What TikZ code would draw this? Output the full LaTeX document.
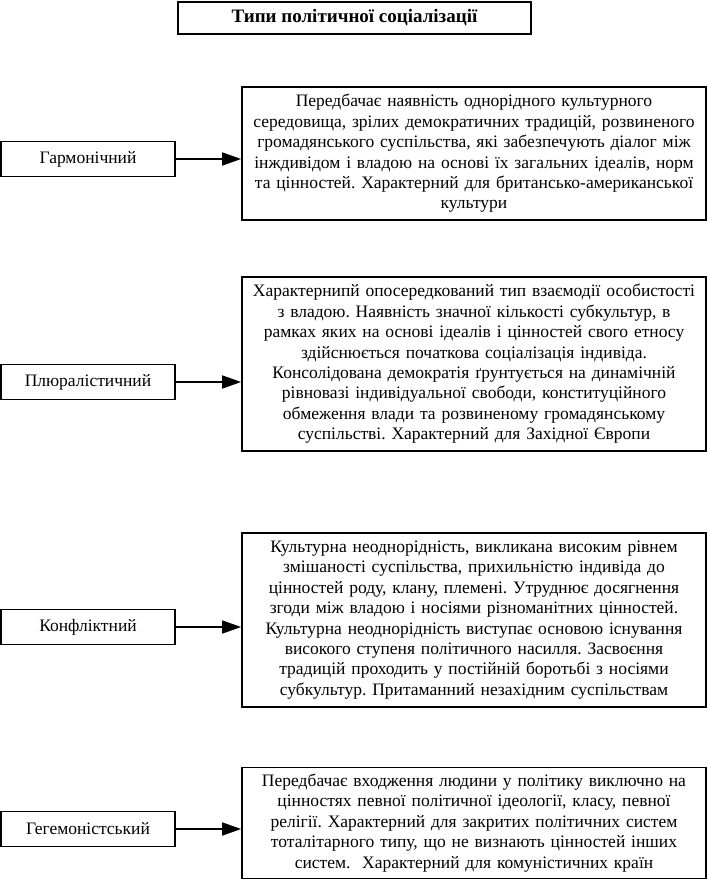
\documentclass[tikz,border=0pt]{standalone}
\usepackage{fontspec}
\setmainfont{Liberation Serif}
\usetikzlibrary{shapes,arrows.meta,positioning}
\def\Title{Типи політичної соціалізації}
\frenchspacing

\begin{document}
\begin{tikzpicture}[x=1pt,y=-1pt,% List of styles applied to all
				every node/.style={
					align=center,  		% use this so that the "\\" for line break works
					font=\fontsize{17.5}{20.4}\selectfont,
					line width=1.7pt
				},
				every edge/.style={draw,line width=1.6pt,-{Triangle[length=19pt,width=13pt]}},
				kind/.style={rectangle,draw=black,minimum width=174pt,minimum height=35pt,inner sep=0pt},
				descr/.style={rectangle,draw=black,minimum width=464pt,text width=460pt,inner sep=0pt}
			]
			\useasboundingbox (0,0) rectangle (708,881);
			\node[rectangle,draw=black,minimum width=353pt,minimum height=32pt,font=\fontsize{19}{22}\selectfont\bfseries](T) at (354.5,18){\Title};
			\node[descr,minimum height=133pt](R1) at (474,153.5){Передбачає наявність однорідного культурного\\ середовища, зрілих демократичних традицій, розвиненого\\ громадянського суспільства, які забезпечують діалог між\\ інждивідом і владою на основі їх загальних ідеалів, норм\\ та цінностей. Характерний для британсько-американської\\ культури};
			\node[descr,minimum height=174pt](R2) at (474,364){Характернипй опосередкований тип взаємодії особистості\\ з владою. Наявність значної кількості субкультур, в\\ рамках яких на основі ідеалів і цінностей свого етносу\\ здійснюється початкова соціалізація індивіда.\\ Консолідована демократія ґрунтується на динамічній\\ рівновазі індивідуальної свободи, конституційного\\ обмеження влади та розвиненому громадянському\\ суспільстві. Характерний для Західної Європи};
			\node[descr,minimum height=174pt](R3) at (474,620){Культурна неоднорідність, викликана високим рівнем\\ змішаності суспільства, прихильністю індивіда до\\ цінностей роду, клану, племені. Утруднює досягнення\\ згоди між владою і носіями різноманітних цінностей.\\ Культурна неоднорідність виступає основою існування\\ високого ступеня політичного насилля. Засвоєння\\ традицій проходить у постійній боротьбі з носіями\\ субкультур. Притаманний незахідним суспільствам};
			\node[descr,minimum height=111pt](R4) at (474,823){Передбачає входження людини у політику виключно на\\ цінностях певної політичної ідеології, класу, певної\\ релігії. Характерний для закритих політичних систем\\ тоталітарного типу, що не визнають цінностей інших\\ систем.\ \ Характерний для комуністичних країн};
			\node[kind](L1) at (88,159){Гармонічний};
			\node[kind](L2) at (88,382){Плюралістичний};
			\node[kind](L3) at (88,627){Конфліктний};
			\node[kind](L4) at (88,829){Гегемоністський};
			\path
			(L1.east) edge (L1.east -| R1.west)
			(L2.east) edge (L2.east -| R2.west)
			(L3.east) edge (L3.east -| R3.west)
			(L4.east) edge (L4.east -| R4.west)
			;
		\end{tikzpicture}
\end{document}
